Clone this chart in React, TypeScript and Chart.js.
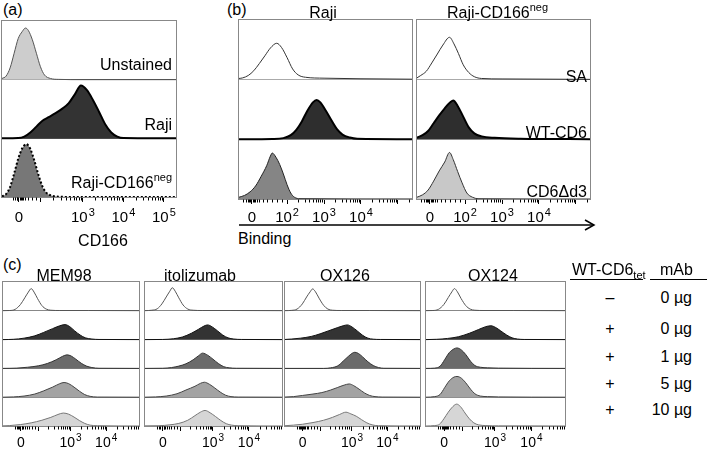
import React, { useEffect, useRef } from "react";
import { Chart, registerables } from "chart.js";

Chart.register(...registerables);

type Pt = [number, number];

// x values: display position in decades (0 label, 10^2, 10^3 ...); y values: % of mode

// ---- Panel (a): CD166 ----
const aUnstained: Pt[] = [[1.0, 2], [1.1, 6], [1.2, 20], [1.3, 45], [1.4, 70], [1.5, 82], [1.58, 88], [1.65, 84], [1.75, 68], [1.85, 45], [1.95, 22], [2.05, 8], [2.2, 2], [2.4, 0.5], [3.0, 0], [5.3, 0]];
const aRaji: Pt[] = [[1.0, 0], [1.4, 0.5], [1.55, 3], [1.7, 10], [1.85, 20], [2.0, 30], [2.15, 36], [2.3, 42], [2.5, 51], [2.65, 60], [2.8, 75], [2.95, 90], [3.1, 82], [3.25, 65], [3.4, 45], [3.55, 24], [3.7, 10], [3.85, 3], [4.0, 0.5], [5.3, 0]];
const aRajiNeg: Pt[] = [[1.0, 1], [1.1, 5], [1.2, 17], [1.3, 40], [1.4, 65], [1.5, 83], [1.6, 90], [1.7, 82], [1.8, 62], [1.9, 38], [2.0, 18], [2.1, 7], [2.25, 2], [2.4, 0.5], [3.0, 0], [5.3, 0]];

// ---- Panel (b): Binding ----
const bRajiSA: Pt[] = [[0.7, 2], [0.8, 3], [0.95, 7], [1.1, 15], [1.25, 27], [1.4, 40], [1.55, 53], [1.72, 61], [1.85, 54], [2.0, 37], [2.15, 18], [2.3, 8], [2.5, 4], [3.0, 2.5], [4.0, 1.5], [5.38, 0.8]];
const bRajiWT: Pt[] = [[0.7, 0], [1.6, 0.5], [1.9, 2], [2.1, 7], [2.25, 16], [2.4, 30], [2.55, 48], [2.7, 62], [2.8, 66], [2.9, 62], [3.05, 48], [3.2, 32], [3.35, 17], [3.5, 8], [3.7, 3], [3.9, 1], [5.38, 0.3]];
const bRajiD3: Pt[] = [[0.7, 3], [0.85, 6], [1.0, 12], [1.15, 22], [1.3, 38], [1.45, 56], [1.55, 72], [1.6, 77], [1.7, 70], [1.8, 58], [1.9, 42], [2.0, 24], [2.1, 10], [2.2, 3], [2.35, 0.5], [5.38, 0]];
const bNegSA: Pt[] = [[0.7, 3], [0.8, 7], [0.95, 14], [1.1, 28], [1.25, 43], [1.4, 58], [1.58, 71], [1.7, 60], [1.82, 44], [1.95, 25], [2.1, 12], [2.25, 5], [2.45, 2], [3.0, 1.2], [5.38, 0.5]];
const bNegWT: Pt[] = [[0.7, 3], [0.85, 7], [1.0, 14], [1.15, 27], [1.3, 40], [1.45, 52], [1.6, 62], [1.68, 65], [1.8, 56], [1.95, 38], [2.1, 20], [2.25, 10], [2.45, 5], [2.8, 2.5], [3.5, 1], [5.38, 0.3]];
const bNegD3: Pt[] = [[0.7, 3], [0.85, 7], [1.0, 15], [1.15, 30], [1.3, 47], [1.45, 62], [1.58, 78], [1.68, 66], [1.8, 46], [1.92, 27], [2.05, 10], [2.2, 3], [2.35, 0.5], [5.38, 0]];

// ---- Panel (c): mAb blocking ----
const mem98R1: Pt[] = [[1.11, 0.5], [1.3, 1], [1.45, 5], [1.6, 22], [1.72, 45], [1.82, 65], [1.9, 77], [1.98, 65], [2.08, 42], [2.2, 18], [2.32, 6], [2.45, 2], [2.7, 1], [3.5, 1], [4.92, 0.5]];
const mem98R2: Pt[] = [[1.11, 0], [1.4, 1], [1.7, 5], [2.0, 13], [2.25, 25], [2.5, 38], [2.7, 48], [2.85, 52], [2.98, 45], [3.12, 30], [3.27, 16], [3.42, 6], [3.6, 2], [3.8, 0.5], [4.92, 0]];
const mem98R3: Pt[] = [[1.11, 0], [1.5, 1], [1.8, 4], [2.1, 9], [2.35, 17], [2.6, 30], [2.78, 42], [2.9, 47], [3.02, 43], [3.15, 32], [3.3, 18], [3.45, 8], [3.6, 3], [3.8, 0.5], [4.92, 0]];
const mem98R4: Pt[] = [[1.11, 0], [1.4, 1], [1.7, 4], [2.0, 11], [2.25, 22], [2.5, 35], [2.7, 47], [2.82, 51], [2.95, 47], [3.1, 35], [3.25, 21], [3.4, 9], [3.55, 3], [3.75, 0.5], [4.92, 0]];
const mem98R5: Pt[] = [[1.11, 0.5], [1.3, 1.5], [1.6, 5], [1.9, 11], [2.2, 20], [2.45, 30], [2.65, 40], [2.8, 45], [2.95, 41], [3.1, 31], [3.25, 19], [3.4, 9], [3.55, 3], [3.75, 1], [4.92, 0]];

const itolR1: Pt[] = [[1.11, 0.5], [1.3, 2], [1.45, 7], [1.58, 24], [1.7, 48], [1.8, 68], [1.87, 80], [1.95, 68], [2.05, 45], [2.17, 20], [2.3, 6], [2.45, 2], [2.7, 1], [3.5, 1], [4.92, 0.5]];
const itolR2: Pt[] = [[1.11, 0], [1.6, 0.5], [1.9, 3], [2.15, 9], [2.4, 22], [2.6, 36], [2.75, 47], [2.85, 51], [2.98, 44], [3.12, 31], [3.27, 16], [3.42, 6], [3.58, 2], [3.8, 0.5], [4.92, 0]];
const itolR3: Pt[] = [[1.11, 0], [1.6, 0.5], [1.85, 3], [2.05, 8], [2.25, 16], [2.45, 30], [2.6, 44], [2.71, 53], [2.85, 46], [3.0, 32], [3.15, 17], [3.3, 6], [3.45, 2], [3.65, 0.5], [4.92, 0]];
const itolR4: Pt[] = [[1.11, 0], [1.4, 1], [1.7, 4], [2.0, 12], [2.25, 25], [2.5, 38], [2.65, 48], [2.76, 52], [2.9, 45], [3.05, 32], [3.2, 18], [3.35, 7], [3.5, 2], [3.7, 0.5], [4.92, 0]];
const itolR5: Pt[] = [[1.11, 0.5], [1.5, 1], [1.8, 4], [2.05, 9], [2.3, 20], [2.5, 36], [2.65, 48], [2.78, 54], [2.92, 46], [3.07, 33], [3.22, 19], [3.37, 8], [3.52, 3], [3.7, 1], [4.92, 0]];

const ox126R1: Pt[] = [[1.11, 0.5], [1.3, 1.5], [1.45, 6], [1.6, 24], [1.72, 48], [1.82, 66], [1.89, 76], [1.97, 66], [2.07, 44], [2.2, 19], [2.32, 6], [2.45, 2], [2.7, 1], [3.5, 1], [4.92, 0.5]];
const ox126R2: Pt[] = [[1.11, 0.5], [1.3, 2], [1.55, 5], [1.85, 11], [2.1, 20], [2.35, 31], [2.6, 42], [2.75, 48], [2.87, 51], [3.0, 44], [3.15, 30], [3.3, 15], [3.45, 5], [3.6, 1.5], [3.8, 0.5], [4.92, 0]];
const ox126R3: Pt[] = [[1.11, 0], [2.2, 0], [2.4, 2], [2.6, 9], [2.75, 25], [2.9, 42], [3.0, 52], [3.08, 56], [3.18, 52], [3.3, 40], [3.45, 23], [3.6, 10], [3.75, 3], [3.9, 0.5], [4.92, 0]];
const ox126R4: Pt[] = [[1.11, 0.5], [1.35, 2], [1.6, 6], [1.9, 11], [2.15, 16], [2.4, 25], [2.6, 34], [2.78, 42], [2.92, 46], [3.05, 40], [3.2, 28], [3.35, 15], [3.5, 6], [3.65, 2], [3.85, 0.5], [4.92, 0]];
const ox126R5: Pt[] = [[1.11, 1], [1.35, 3], [1.6, 6], [1.9, 12], [2.2, 20], [2.45, 30], [2.65, 40], [2.83, 48], [2.97, 42], [3.12, 34], [3.27, 22], [3.42, 11], [3.57, 4], [3.75, 1], [4.92, 0]];

const ox124R1: Pt[] = [[1.11, 0.5], [1.3, 1], [1.45, 5], [1.6, 22], [1.72, 46], [1.82, 66], [1.89, 77], [1.97, 66], [2.07, 43], [2.2, 18], [2.32, 6], [2.45, 2], [2.7, 1], [3.5, 1], [4.92, 0.5]];
const ox124R2: Pt[] = [[1.11, 0], [1.4, 1], [1.7, 4], [2.0, 10], [2.3, 22], [2.55, 35], [2.75, 45], [2.89, 48], [3.02, 42], [3.16, 30], [3.32, 16], [3.47, 6], [3.62, 2], [3.8, 0.5], [4.92, 0]];
const ox124R3: Pt[] = [[1.11, 0], [1.35, 1], [1.5, 8], [1.62, 30], [1.75, 55], [1.88, 68], [1.96, 71], [2.08, 64], [2.2, 48], [2.33, 25], [2.45, 10], [2.6, 4], [2.8, 2], [3.1, 1], [4.92, 0]];
const ox124R4: Pt[] = [[1.11, 0], [1.35, 2], [1.5, 10], [1.62, 33], [1.75, 57], [1.88, 70], [1.96, 72], [2.08, 66], [2.2, 50], [2.33, 28], [2.45, 12], [2.6, 4], [2.8, 2], [3.1, 1], [4.92, 0]];
const ox124R5: Pt[] = [[1.11, 0], [1.35, 1.5], [1.48, 6], [1.6, 25], [1.72, 48], [1.85, 68], [1.95, 76], [2.05, 68], [2.18, 45], [2.3, 25], [2.42, 11], [2.55, 4], [2.75, 1.5], [3.1, 0.5], [4.92, 0]];

// ---- Axis ticks ----
const aTickValues = [1.42, 1.95, 3, 4, 5];
const aTickLabels = ["0", "", "10³", "10⁴", "10⁵"];
const aDecades = [1.95, 3, 4, 5];
const aZeroTicks = [1.28, 1.33, 1.36, 1.38, 1.40, 1.44, 1.46, 1.49, 1.53, 1.58, 1.65, 1.74, 1.84];

const bTickValues = [1.05, 2, 3, 4, 5];
const bTickLabels = ["0", "10²", "10³", "10⁴", ""];
const bDecades = [2, 3, 4, 5];
const bZeroTicks = [0.82, 0.88, 0.93, 0.97, 1.0, 1.03, 1.07, 1.1, 1.13, 1.18, 1.25, 1.34, 1.45, 1.58, 1.73, 1.87];

const cTickValues = [1.61, 2.1, 3, 4];
const cTickLabels = ["0", "", "10³", "10⁴"];
const cDecades = [2.1, 3, 4];
const cZeroTicks = [1.45, 1.5, 1.54, 1.57, 1.59, 1.63, 1.65, 1.68, 1.72, 1.77, 1.84, 1.92, 2.01];

// ---- Table ----
const tableTetramer = ["–", "+", "+", "+", "+"];
const tableMab = ["0 µg", "0 µg", "1 µg", "5 µg", "10 µg"];
const cTitles = ["MEM98", "itolizumab", "OX126", "OX124"];

const FONT = '"Liberation Sans", Arial, Helvetica, sans-serif';
const SUPERSCRIPT: Record<string, string> = { "²": "2", "³": "3", "⁴": "4", "⁵": "5" };

function logMinor(decades: number[], max: number): number[] {
  const out: number[] = [];
  for (let i = 0; i < decades.length; i++) {
    const d = decades[i];
    const next = i + 1 < decades.length ? decades[i + 1] : d + (d - decades[i - 1]);
    for (let m = 2; m <= 9; m++) {
      const p = d + Math.log10(m) * (next - d);
      if (p < max) out.push(p);
    }
  }
  return out;
}

type Row = { data: Pt[]; fill: string | null; line: string; width: number; dash?: number[] };
type BoxSpec = {
  left: number; top: number; width: number; height: number;
  xMin: number; xMax: number;
  ticks: number[]; labels: string[]; minor: number[];
  rows: Row[];
  sep: string; border: string;
  fontSize: number; expSize: number; labelBase: number; axisH: number;
};

const aMinor = [...aZeroTicks, ...logMinor(aDecades, 5.3)];
const bMinor = [...bZeroTicks, ...logMinor(bDecades, 5.38)];
const cMinor = [...cZeroTicks, ...logMinor(cDecades, 4.92)];

const cStyles = [
  { fill: null, line: "#555", width: 1 },
  { fill: "#333333", line: "#111", width: 1 },
  { fill: "#6b6b6b", line: "#333", width: 1 },
  { fill: "#a3a3a3", line: "#444", width: 1 },
  { fill: "#d6d6d6", line: "#777", width: 1 },
];
const cData: Pt[][][] = [
  [mem98R1, mem98R2, mem98R3, mem98R4, mem98R5],
  [itolR1, itolR2, itolR3, itolR4, itolR5],
  [ox126R1, ox126R2, ox126R3, ox126R4, ox126R5],
  [ox124R1, ox124R2, ox124R3, ox124R4, ox124R5],
];
const cBoxes = [
  { left: 3, width: 136 },
  { left: 145, width: 137 },
  { left: 285, width: 135 },
  { left: 426, width: 139 },
];

const boxes: BoxSpec[] = [
  {
    left: 2, top: 21, width: 174, height: 176, xMin: 1.0, xMax: 5.3,
    ticks: aTickValues, labels: aTickLabels, minor: aMinor,
    rows: [
      { data: aUnstained, fill: "#cdcdcd", line: "#555", width: 1 },
      { data: aRaji, fill: "#333333", line: "#000", width: 2 },
      { data: aRajiNeg, fill: "#777777", line: "#000", width: 2, dash: [2, 2] },
    ],
    sep: "#555", border: "#888", fontSize: 15, expSize: 11, labelBase: 25, axisH: 30,
  },
  {
    left: 239, top: 20, width: 173, height: 179, xMin: 0.7, xMax: 5.38,
    ticks: bTickValues, labels: bTickLabels, minor: bMinor,
    rows: [
      { data: bRajiSA, fill: null, line: "#333", width: 1 },
      { data: bRajiWT, fill: "#2e2e2e", line: "#000", width: 2 },
      { data: bRajiD3, fill: "#858585", line: "#222", width: 1 },
    ],
    sep: "#aaa", border: "#888", fontSize: 15, expSize: 11, labelBase: 23, axisH: 28,
  },
  {
    left: 417, top: 20, width: 173, height: 179, xMin: 0.7, xMax: 5.38,
    ticks: bTickValues, labels: bTickLabels, minor: bMinor,
    rows: [
      { data: bNegSA, fill: null, line: "#333", width: 1 },
      { data: bNegWT, fill: "#2e2e2e", line: "#000", width: 2 },
      { data: bNegD3, fill: "#c8c8c8", line: "#333", width: 1 },
    ],
    sep: "#aaa", border: "#888", fontSize: 15, expSize: 11, labelBase: 23, axisH: 28,
  },
  ...cBoxes.map((b, ci) => ({
    left: b.left, top: 282, width: b.width, height: 144, xMin: 1.11, xMax: 4.92,
    ticks: cTickValues, labels: cTickLabels, minor: cMinor,
    rows: cData[ci].map((d, ri) => ({ data: d, ...cStyles[ri] })),
    sep: "#888", border: "#888", fontSize: 14, expSize: 10, labelBase: 21, axisH: 26,
  })),
];

function HistBox({ spec }: { spec: BoxSpec }) {
  const ref = useRef<HTMLCanvasElement>(null);
  useEffect(() => {
    const n = spec.rows.length;
    const seps: number[] = [];
    for (let i = 1; i < n; i++) seps.push(i * 100);
    const framePlugin = {
      id: "frame",
      afterDraw(chart: any) {
        const { ctx, chartArea } = chart;
        const xs = chart.scales.x;
        ctx.save();
        ctx.strokeStyle = spec.border;
        ctx.lineWidth = 1;
        ctx.strokeRect(
          Math.round(chartArea.left) - 0.5,
          Math.round(chartArea.top) - 0.5,
          Math.round(chartArea.right - chartArea.left) + 1,
          Math.round(chartArea.bottom - chartArea.top) + 1
        );
        // minor ticks
        ctx.strokeStyle = "#000";
        ctx.beginPath();
        const b = Math.round(chartArea.bottom) + 0.5;
        for (const v of spec.minor) {
          const x = Math.round(xs.getPixelForValue(v)) + 0.5;
          ctx.moveTo(x, b);
          ctx.lineTo(x, b + 3);
        }
        ctx.stroke();
        // tick labels with real superscripts
        ctx.fillStyle = "#000";
        ctx.textBaseline = "alphabetic";
        ctx.textAlign = "left";
        const y = chartArea.bottom + spec.labelBase;
        spec.ticks.forEach((v, i) => {
          const lab = spec.labels[i];
          if (!lab) return;
          const last = lab[lab.length - 1];
          let base = lab;
          let exp = "";
          if (SUPERSCRIPT[last]) {
            base = lab.slice(0, -1);
            exp = SUPERSCRIPT[last];
          }
          ctx.font = `${spec.fontSize}px ${FONT}`;
          const w1 = ctx.measureText(base).width;
          ctx.font = `${spec.expSize}px ${FONT}`;
          const w2 = exp ? ctx.measureText(exp).width + 1 : 0;
          const x0 = xs.getPixelForValue(v) - (w1 + w2) / 2;
          ctx.font = `${spec.fontSize}px ${FONT}`;
          ctx.fillText(base, x0, y);
          if (exp) {
            ctx.font = `${spec.expSize}px ${FONT}`;
            ctx.fillText(exp, x0 + w1 + 1, y - spec.fontSize * 0.42);
          }
        });
        ctx.restore();
      },
    };
    const chart = new Chart(ref.current as HTMLCanvasElement, {
      type: "line",
      data: {
        datasets: spec.rows.map((r, i) => {
          const base = (n - 1 - i) * 100;
          return {
            data: r.data.map(([x, y]) => ({ x, y: base + y })),
            borderColor: r.line,
            borderWidth: r.width,
            borderDash: r.dash ?? [],
            backgroundColor: r.fill ?? "rgba(0,0,0,0)",
            fill: r.fill ? { value: base } : false,
            pointRadius: 0,
            cubicInterpolationMode: "monotone",
          } as any;
        }),
      },
      options: {
        responsive: false,
        animation: false,
        events: [],
        layout: { padding: { left: 1, right: 1, top: 1, bottom: 0 } },
        plugins: { legend: { display: false }, tooltip: { enabled: false } },
        scales: {
          x: {
            type: "linear",
            min: spec.xMin,
            max: spec.xMax,
            afterBuildTicks: (ax: any) => {
              ax.ticks = spec.ticks.map((v) => ({ value: v }));
            },
            afterFit: (ax: any) => {
              ax.height = spec.axisH;
            },
            ticks: { display: false, autoSkip: false, maxRotation: 0 },
            grid: { drawOnChartArea: false, drawTicks: true, tickLength: 5, color: "#000", tickColor: "#000" },
            border: { display: false },
          },
          y: {
            type: "linear",
            min: 0,
            max: n * 100,
            afterBuildTicks: (ax: any) => {
              ax.ticks = seps.map((v) => ({ value: v }));
            },
            afterFit: (ax: any) => {
              ax.width = 0;
            },
            ticks: { display: false },
            grid: { color: spec.sep, drawTicks: false, lineWidth: 1 },
            border: { display: false },
          },
        },
      } as any,
      plugins: [framePlugin],
    });
    return () => chart.destroy();
  }, [spec]);
  const w = spec.width + 2;
  const h = spec.height + 1 + spec.axisH;
  return (
    <canvas
      ref={ref}
      width={w}
      height={h}
      style={{ position: "absolute", left: spec.left - 1, top: spec.top - 1, width: w, height: h }}
    />
  );
}

function Txt(props: { x: number; cy: number; align?: "left" | "right" | "center"; size?: number; children: React.ReactNode }) {
  const size = props.size ?? 16;
  const align = props.align ?? "left";
  const style: React.CSSProperties = {
    position: "absolute",
    top: props.cy - size / 2,
    fontSize: size,
    lineHeight: 1,
    whiteSpace: "nowrap",
  };
  if (align === "left") style.left = props.x;
  else if (align === "right") style.right = 709 - props.x;
  else {
    style.left = props.x;
    style.transform = "translateX(-50%)";
  }
  return <div style={style}>{props.children}</div>;
}

const sup = (t: string) => (
  <span style={{ fontSize: 11, position: "relative", top: -7 }}>{t}</span>
);
const sub = (t: string) => (
  <span style={{ fontSize: 11, position: "relative", top: 4 }}>{t}</span>
);

const tableRowsY = [298, 329, 357, 384, 410];
const cTitleX = [64, 200, 345, 493];

export default function App() {
  return (
    <div
      style={{
        position: "absolute",
        left: 0,
        top: 0,
        width: 709,
        height: 453,
        background: "#fff",
        overflow: "hidden",
        fontFamily: FONT,
        color: "#000",
      }}
    >
      {boxes.map((b, i) => (
        <HistBox key={i} spec={b} />
      ))}

      {/* Panel (a) */}
      <Txt x={3} cy={10}>(a)</Txt>
      <Txt x={172} cy={65} align="right">Unstained</Txt>
      <Txt x={172} cy={125} align="right">Raji</Txt>
      <Txt x={172} cy={183} align="right">Raji-CD166{sup("neg")}</Txt>
      <Txt x={103} cy={241} align="center">CD166</Txt>

      {/* Panel (b) */}
      <Txt x={227} cy={10}>(b)</Txt>
      <Txt x={323} cy={13} align="center">Raji</Txt>
      <Txt x={447} cy={13}>Raji-CD166{sup("neg")}</Txt>
      <Txt x={587} cy={77} align="right">SA</Txt>
      <Txt x={587} cy={133} align="right">WT-CD6</Txt>
      <Txt x={587} cy={192} align="right">CD6Δd3</Txt>
      <Txt x={238} cy={239}>Binding</Txt>

      {/* Panel (c) */}
      <Txt x={3} cy={265}>(c)</Txt>
      {cTitles.map((t, i) => (
        <Txt key={t} x={cTitleX[i]} cy={276} align="center">{t}</Txt>
      ))}

      {/* Table */}
      <Txt x={572} cy={270}>WT-CD6{sub("tet")}</Txt>
      <Txt x={660} cy={270}>mAb</Txt>
      {tableTetramer.map((t, i) => (
        <Txt key={"t" + i} x={610} cy={tableRowsY[i]} align="center">{t}</Txt>
      ))}
      {tableMab.map((t, i) => (
        <Txt key={"m" + i} x={692} cy={tableRowsY[i]} align="right">{t}</Txt>
      ))}

      <svg width={709} height={453} style={{ position: "absolute", left: 0, top: 0, pointerEvents: "none" }}>
        <line x1={239} y1={225} x2={594} y2={225} stroke="#000" strokeWidth={1.5} />
        <polyline points="585,220 594,225 585,230" fill="none" stroke="#000" strokeWidth={1.5} />
        <line x1={570} y1={279.5} x2={643} y2={279.5} stroke="#000" strokeWidth={1} />
        <line x1={650} y1={279.5} x2={707} y2={279.5} stroke="#000" strokeWidth={1} />
      </svg>
    </div>
  );
}
